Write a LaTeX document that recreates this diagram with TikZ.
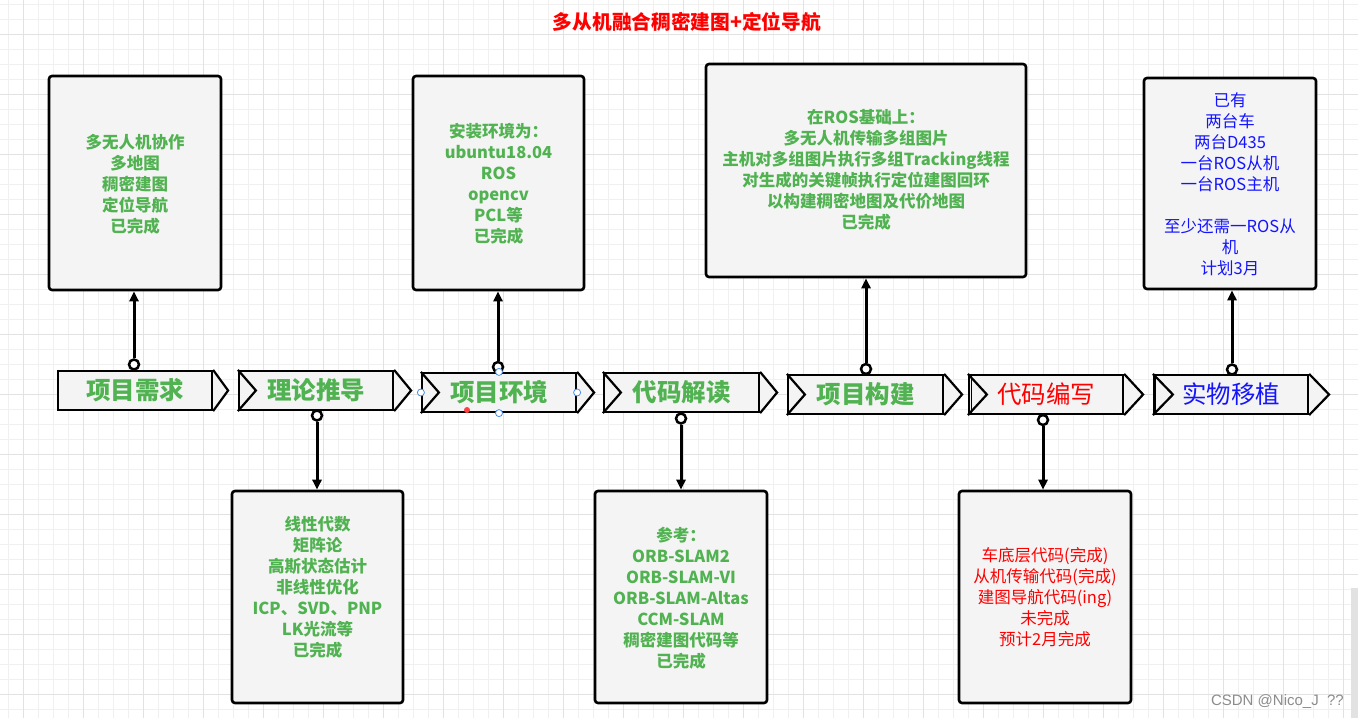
\documentclass[tikz,border=0pt]{standalone}
\usepackage{fontspec}
\newfontfamily\cjk{Noto Sans CJK SC}
\newfontfamily\wm{Liberation Sans}
\usetikzlibrary{arrows.meta}
\definecolor{gr}{RGB}{80,178,80}
\definecolor{boxgray}{RGB}{244,244,244}
\definecolor{gminor}{RGB}{240,240,240}
\definecolor{gmajor}{RGB}{226,226,226}
\definecolor{bl}{RGB}{20,20,255}
\definecolor{hblue}{RGB}{70,140,230}
\tikzset{
 infobox/.style={draw=black, line width=2.6pt, rounded corners=3pt, fill=boxgray, inner sep=0pt},
 boxtext/.style={align=center, font=\cjk\bfseries\fontsize{16.5}{21}\selectfont, text=gr, inner sep=0pt},
 chev/.style={draw=black, line width=2.2pt, fill=boxgray, inner sep=0pt, minimum height=39pt, font=\cjk\bfseries\fontsize{24.5}{28}\selectfont, text=gr},
 chevedge/.style={draw=black, line width=2.2pt, line join=miter},
 conn/.style={line width=3pt, -{Triangle[length=10pt,width=9pt]}},
 knob/.style={circle, draw=black, line width=2.5pt, fill=white, minimum size=10pt, inner sep=0pt},
 handle/.style={circle, draw=hblue, line width=0.8pt, fill=white, minimum size=7pt, inner sep=0pt},
}
\begin{document}
\begin{tikzpicture}[x=1pt,y=-1pt]
\useasboundingbox (0,0) rectangle (1358,718);
\fill[white] (0,0) rectangle (1358,718);
% grid
\foreach \i in {0,...,90} \draw[gminor, line width=0.8pt] (8+15*\i,0) -- (8+15*\i,718);
\foreach \j in {0,...,48} \draw[gminor, line width=0.8pt] (0,4+15*\j) -- (1358,4+15*\j);
\foreach \i in {0,...,22} \draw[gmajor, line width=0.9pt] (23+60*\i,0) -- (23+60*\i,718);
\foreach \j in {0,...,11} \draw[gmajor, line width=0.9pt] (0,34+60*\j) -- (1358,34+60*\j);
\fill[gmajor] (1351,588) rectangle (1358,718);

% title
\node[font=\cjk\bfseries\fontsize{19.7}{22}\selectfont, text=red] (title) at (687,22) {多从机融合稠密建图+定位导航};

% info boxes
\node[infobox, minimum width=172pt, minimum height=214pt] (b1) at (135,183) {};
\node[infobox, minimum width=171pt, minimum height=214pt] (b2) at (498.5,183) {};
\node[infobox, minimum width=320pt, minimum height=213pt] (b3) at (866,170.5) {};
\node[infobox, minimum width=172pt, minimum height=211pt] (b4) at (1230,183.5) {};
\node[infobox, minimum width=171pt, minimum height=212pt] (b5) at (317.5,597) {};
\node[infobox, minimum width=172pt, minimum height=212pt] (b6) at (681,597) {};
\node[infobox, minimum width=172pt, minimum height=212pt] (b7) at (1045,597) {};

\node[boxtext] (t1) at (135,184) {多无人机协作\\多地图\\稠密建图\\定位导航\\已完成};
\node[boxtext] (t2) at (498.5,184) {安装环境为：\\ubuntu18.04\\ROS\\opencv\\PCL等\\已完成};
\node[boxtext] (t3) at (866,170) {在ROS基础上：\\多无人机传输多组图片\\主机对多组图片执行多组Tracking线程\\对生成的关键帧执行定位建图回环\\以构建稠密地图及代价地图\\已完成};
\node[boxtext, font=\cjk\fontsize{16.5}{21}\selectfont, text=bl] (t4) at (1230,184.5) {已有\\两台车\\两台D435\\一台ROS从机\\一台ROS主机\\[21pt]至少还需一ROS从\\机\\计划3月};
\node[boxtext] (t5) at (317.5,587.5) {线性代数\\矩阵论\\高斯状态估计\\非线性优化\\ICP、SVD、PNP\\LK光流等\\已完成};
\node[boxtext] (t6) at (681,598) {参考：\\ORB-SLAM2\\ORB-SLAM-VI\\ORB-SLAM-Altas\\CCM-SLAM\\稠密建图代码等\\已完成};
\node[boxtext, font=\cjk\fontsize{16.5}{21}\selectfont, text=red] (t7) at (1045,597) {车底层代码(完成)\\从机传输代码(完成)\\建图导航代码(ing)\\未完成\\预计2月完成};

% chevrons
\node[chev, minimum width=154pt] (p1) at (135,390.5) {项目需求};
\draw[chevedge, fill=boxgray] (p1.north east) -- ([xshift=15pt]p1.east) -- (p1.south east);

\node[chev, minimum width=154pt] (p2) at (316,390.5) {理论推导};
\draw[chevedge, fill=boxgray] (p2.north east) -- ([xshift=17pt]p2.east) -- (p2.south east);
\draw[chevedge] (p2.north west) -- ([xshift=18pt]p2.west) -- (p2.south west);

\node[chev, minimum width=154pt] (p3) at (499,392.5) {项目环境};
\draw[chevedge, fill=boxgray] (p3.north east) -- ([xshift=17pt]p3.east) -- (p3.south east);
\draw[chevedge] (p3.north west) -- ([xshift=18pt]p3.west) -- (p3.south west);

\node[chev, minimum width=155pt] (p4) at (681.5,392.5) {代码解读};
\draw[chevedge, fill=boxgray] (p4.north east) -- ([xshift=17pt]p4.east) -- (p4.south east);
\draw[chevedge] (p4.north west) -- ([xshift=18pt]p4.west) -- (p4.south west);

\node[chev, minimum width=155pt] (p5) at (865.5,394.5) {项目构建};
\draw[chevedge, fill=boxgray] (p5.north east) -- ([xshift=18pt]p5.east) -- (p5.south east);
\draw[chevedge] (p5.north west) -- ([xshift=18pt]p5.west) -- (p5.south west);

\node[chev, minimum width=154pt, font=\cjk\fontsize{24.5}{28}\selectfont, text=red] (p6) at (1046,394.5) {代码编写};
\draw[chevedge, fill=boxgray] (p6.north east) -- ([xshift=19pt]p6.east) -- (p6.south east);
\draw[chevedge] (p6.north west) -- ([xshift=19pt]p6.west) -- (p6.south west);
\draw[line width=1.2pt] ([xshift=3.5pt]p6.north west) -- ([xshift=3.5pt]p6.south west);

\node[chev, minimum width=154pt, font=\cjk\fontsize{24.5}{28}\selectfont, text=bl] (p7) at (1231,394.5) {实物移植};
\draw[chevedge, fill=boxgray] (p7.north east) -- ([xshift=20pt]p7.east) -- (p7.south east);
\draw[chevedge] (p7.north west) -- ([xshift=20pt]p7.west) -- (p7.south west);
\draw[line width=2pt] ([xshift=2pt]p7.north west) -- ([xshift=2pt]p7.south west);

% knobs and connectors
\node[knob] (k1) at (134,364.5) {};
\node[knob] (k2) at (317,415.5) {};
\node[knob] (k3) at (498,367) {};
\node[knob] (k4) at (681,418.5) {};
\node[knob] (k5) at (866,369) {};
\node[knob] (k6) at (1043,420) {};
\node[knob] (k7) at (1232,369.5) {};
\draw[conn] (k1) -- (k1 |- b1.south);
\draw[conn] (k2) -- (k2 |- b5.north);
\draw[conn] (k3) -- (k3 |- b2.south);
\draw[conn] (k4) -- (k4 |- b6.north);
\draw[conn] (k5) -- (k5 |- b3.south);
\draw[conn] (k6) -- (k6 |- b7.north);
\draw[conn] (k7) -- (k7 |- b4.south);

% selection handles on 项目环境
\node[handle] (h1) at (p3.west) {};
\node[handle] (h2) at (p3.east) {};
\node[handle] (h3) at (p3.north) {};
\node[handle] (h4) at (p3.south) {};
\node[circle, fill=red!75, minimum size=6pt, inner sep=0pt] (h5) at (467,410) {};

% watermark
\node[font=\wm\fontsize{15}{17}\selectfont, text=black!45, anchor=east, inner sep=0pt] (wm) at (1344,702) {CSDN @Nico\_J\ \ ??};
\end{tikzpicture}
\end{document}
